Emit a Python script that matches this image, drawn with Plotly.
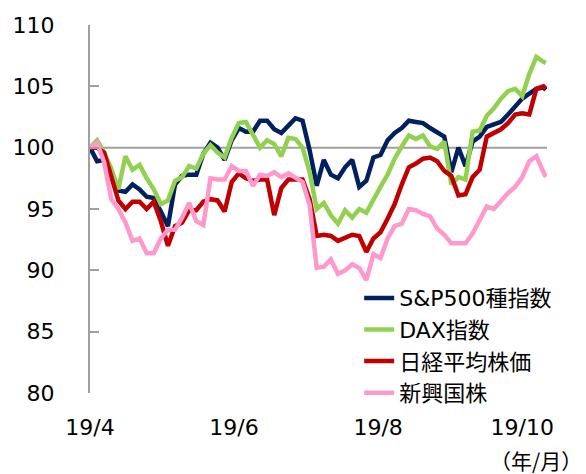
import plotly.graph_objects as go
import pandas as pd

# x: every 3 calendar days from 2019-04-01, last point 2019-10-11
day_offsets = list(range(0, 193, 3)) + [193]
dates = [pd.Timestamp("2019-04-01") + pd.Timedelta(days=d) for d in day_offsets]

sp500 = [100.0, 98.9, 99.0, 97.9, 96.5, 96.4, 97.0, 96.6, 96.0, 95.9,
         94.8, 93.6, 97.0, 97.7, 97.8, 97.8, 99.5, 100.4, 100.0, 99.0,
         100.6, 101.6, 101.3, 101.3, 102.2, 102.2, 101.5, 101.2, 101.8, 102.4,
         102.2, 99.8, 96.9, 99.0, 97.8, 97.5, 98.4, 99.0, 96.8, 97.3,
         99.2, 99.4, 100.6, 101.2, 101.6, 102.2, 102.1, 102.0, 101.6, 101.3,
         100.9, 98.0, 100.0, 98.5, 100.5, 100.9, 101.7, 101.9, 102.1, 102.7,
         103.4, 104.0, 104.4, 104.8, 104.9, 104.7]
dax = [100.0, 100.6, 99.6, 98.3, 96.6, 99.3, 98.2, 98.6, 97.5, 96.6,
       95.4, 95.7, 97.3, 97.6, 98.5, 98.3, 99.5, 100.2, 99.6, 99.2,
       100.8, 102.0, 102.1, 101.0, 100.0, 100.6, 100.3, 99.3, 100.8, 100.7,
       100.0, 98.0, 95.0, 95.5, 94.5, 93.8, 94.9, 94.3, 95.0, 94.7,
       95.8, 96.8, 97.8, 99.1, 100.1, 101.0, 100.7, 101.0, 100.1, 99.9,
       100.5, 97.0, 97.6, 97.4, 101.3, 101.4, 102.6, 103.2, 104.0, 104.6,
       104.8, 104.2, 106.0, 107.4, 107.0, 106.9]
nikkei = [100.0, 100.0, 99.6, 97.5, 95.7, 95.0, 95.6, 95.6, 95.0, 95.6,
          94.0, 92.0, 93.6, 93.9, 94.9, 94.9, 95.6, 95.8, 95.7, 94.8,
          97.2, 97.9, 97.5, 97.3, 97.4, 97.4, 94.5, 96.7, 97.4, 97.4,
          97.4, 95.8, 92.8, 92.9, 92.8, 92.4, 92.7, 92.9, 92.8, 91.5,
          92.6, 93.1, 94.2, 95.4, 97.0, 98.4, 98.7, 99.1, 99.2, 98.9,
          98.1, 97.7, 96.1, 96.2, 97.6, 98.2, 100.9, 101.2, 101.5, 102.0,
          102.7, 102.8, 102.7, 104.8, 105.0, 104.8]
emerging = [100.0, 100.4, 98.8, 95.8, 95.0, 93.9, 92.4, 92.6, 91.4, 91.4,
            92.6, 93.3, 93.3, 94.3, 95.5, 94.0, 93.7, 97.5, 97.4, 97.4,
            98.5, 98.1, 98.1, 96.9, 97.8, 97.7, 98.0, 97.6, 97.9, 97.5,
            97.2, 95.3, 90.2, 90.3, 90.9, 89.7, 90.0, 90.5, 90.2, 89.2,
            91.3, 91.0, 92.6, 93.6, 93.8, 95.0, 94.9, 94.6, 94.4, 93.4,
            92.9, 92.2, 92.2, 92.2, 93.0, 94.1, 95.2, 95.0, 95.7, 96.3,
            96.8, 97.6, 98.9, 99.3, 98.0, 97.6]

series_names = ["S&P500種指数", "DAX指数", "日経平均株価", "新興国株"]
series_values = [sp500, dax, nikkei, emerging]
series_colors = ["#002060", "#92D050", "#C00000", "#FF99CC"]

x_tick_dates = ["2019-04-01", "2019-06-01", "2019-08-01", "2019-10-01"]
x_tick_labels = ["19/4", "19/6", "19/8", "19/10"]
y_ticks = [80, 85, 90, 95, 100, 105, 110]

FONT = "DejaVu Sans, Noto Sans CJK JP, sans-serif"

fig = go.Figure()
for name, vals, col in zip(series_names, series_values, series_colors):
    fig.add_trace(go.Scatter(x=dates, y=vals, mode="lines", name=name,
                             legendgroup=name,
                             line=dict(color=col, width=4.5)))

fig.add_shape(type="line", xref="paper", x0=0, x1=1, yref="y", y0=100, y1=100,
              line=dict(color="#a0a0a0", width=2), layer="below")

fig.add_annotation(text="（年/月）", xref="paper", yref="paper", x=0.976, y=-0.182,
                   showarrow=False, xanchor="center", yanchor="middle",
                   font=dict(size=21, color="#000000",
                             family="Noto Sans CJK JP, sans-serif"))

# page body has an 8px margin, so the figure is 8px smaller and shifted
fig.update_layout(
    width=578, height=466, autosize=False,
    margin=dict(l=82, r=39, t=17, b=81),
    paper_bgcolor="white", plot_bgcolor="white",
    font=dict(family=FONT, size=22, color="#000000"),
    showlegend=True,
    legend=dict(x=0.589, y=0.315, xanchor="left", yanchor="top",
                font=dict(size=22, family=FONT, color="#000000"),
                tracegroupgap=0, bgcolor="rgba(0,0,0,0)", borderwidth=0),
    xaxis=dict(range=["2019-04-01", "2019-10-11 12:00"], tickmode="array",
               tickvals=x_tick_dates, ticktext=x_tick_labels,
               showgrid=False, showline=False, zeroline=False, ticks="",
               automargin=False,
               ticklabelstandoff=19, tickfont=dict(size=22)),
    yaxis=dict(range=[80, 110], tickmode="array", tickvals=y_ticks,
               showgrid=False, zeroline=False, showline=True,
               linecolor="#a0a0a0", linewidth=2, automargin=False,
               ticks="inside", ticklen=9, tickcolor="#a0a0a0", tickwidth=2,
               ticklabelstandoff=29, tickfont=dict(size=22)),
)

fig.write_html("out.html")
